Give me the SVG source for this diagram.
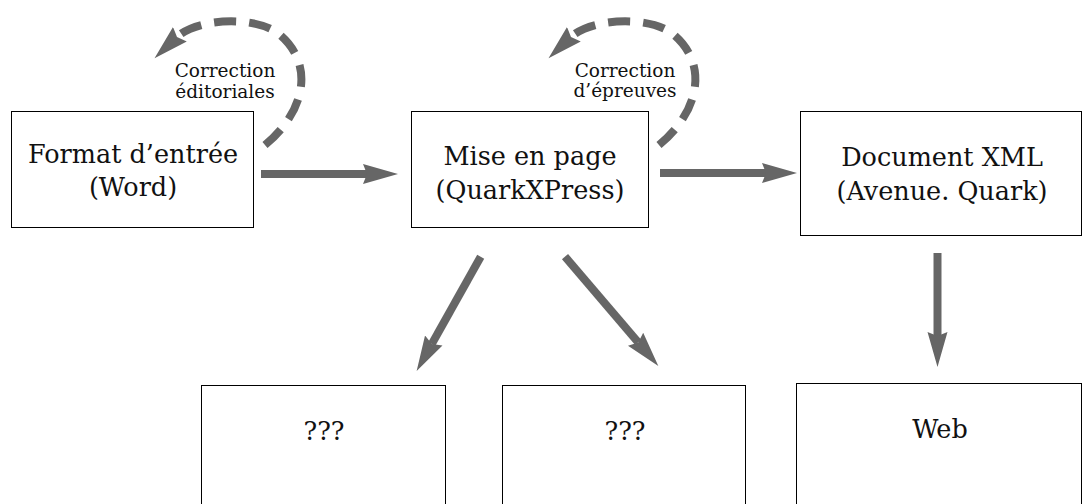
<svg xmlns="http://www.w3.org/2000/svg" width="1082" height="504" viewBox="0 0 1082 504">
<defs>
<style>
.box{fill:#fff;stroke:#000;stroke-width:1}
.t{font-family:"DejaVu Serif","Liberation Serif",serif;font-size:25.5px;fill:#111;text-anchor:middle}
.s{font-family:"DejaVu Serif","Liberation Serif",serif;font-size:18.5px;fill:#111;text-anchor:middle}
.arr{fill:none;stroke:#666;stroke-width:8;marker-end:url(#head)}
.dash{fill:none;stroke:#666;stroke-width:8;stroke-dasharray:22 13;marker-end:url(#head)}
</style>
<marker id="head" markerUnits="userSpaceOnUse" viewBox="0 -12 40 24" refX="4" refY="0" markerWidth="40" markerHeight="24" orient="auto">
<path d="M0,-10 L35,0 L0,10 L4,0 Z" fill="#666"/>
</marker>
</defs>
<rect width="1082" height="504" fill="#fff"/>
<g id="connectors">
<path class="arr" d="M261,174 H367"/>
<path class="arr" d="M660,173 H766"/>
<path class="arr" d="M937.5,253 V336"/>
<path class="arr" d="M480.7,256.7 L431.8,344"/>
<path class="arr" d="M565,256.7 L638.2,342.4"/>
<path class="dash" d="M265,145 C305,112 315,65 280,35 C257,15 197,18 177,37"/>
<path class="dash" d="M659,145 C699,112 709,65 674,35 C651,15 591,18 571,37"/>
</g>
<g id="label-editoriales">
<text class="s" x="225" y="77">Correction</text>
<text class="s" x="225" y="98">éditoriales</text>
</g>
<g id="label-epreuves">
<text class="s" x="625" y="77">Correction</text>
<text class="s" x="625" y="97">d’épreuves</text>
</g>
<g id="node-word">
<rect class="box" x="11.5" y="111.5" width="242" height="116"/>
<text class="t" x="133" y="163">Format d’entrée</text>
<text class="t" x="133" y="196">(Word)</text>
</g>
<g id="node-quark">
<rect class="box" x="411.5" y="111.5" width="237" height="116"/>
<text class="t" x="530" y="165">Mise en page</text>
<text class="t" x="530" y="199">(QuarkXPress)</text>
</g>
<g id="node-xml">
<rect class="box" x="800.5" y="111.5" width="281" height="124"/>
<text class="t" x="942" y="166">Document XML</text>
<text class="t" x="942" y="200">(Avenue. Quark)</text>
</g>
<g id="node-q1">
<rect class="box" x="201.5" y="385.5" width="244" height="130"/>
<text class="t" x="324" y="440">???</text>
</g>
<g id="node-q2">
<rect class="box" x="502.5" y="385.5" width="243" height="130"/>
<text class="t" x="625" y="440">???</text>
</g>
<g id="node-web">
<rect class="box" x="796.5" y="383.5" width="285" height="130"/>
<text class="t" x="940" y="438">Web</text>
</g>
</svg>
